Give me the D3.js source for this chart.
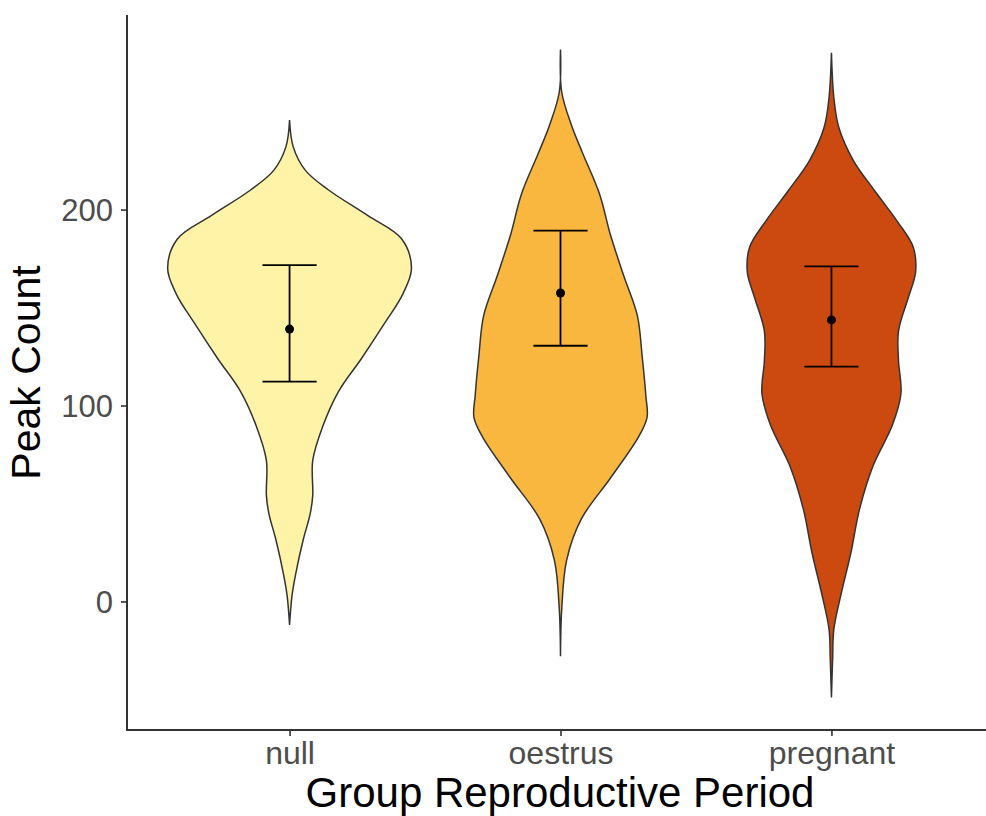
<!DOCTYPE html>
<html>
<head>
<meta charset="utf-8">
<script src="https://cdn.jsdelivr.net/npm/d3@7"></script>
<style>
  body { margin: 0; background: #fff; }
  text { font-family: "Liberation Sans", Arial, sans-serif; }
</style>
</head>
<body>
<div id="chart"></div>
<script>
let width = 986;
let height = 816;

// categories and fills
let groups = ["null", "oestrus", "pregnant"];
let fills = ["#fff3a8", "#fab73f", "#cc4a0f"];

// violin outlines: peak count values and relative density (null max = 1)
let nullVals = [245.7, 232, 220, 210, 197, 185, 170, 157, 142, 124, 107, 89, 72, 54, 45, 31, 14, 3, -12];
let nullDens = [0, 0.03, 0.13, 0.32, 0.64, 0.92, 1.0, 0.93, 0.78, 0.59, 0.40, 0.27, 0.19, 0.19, 0.17, 0.11, 0.05, 0.02, 0];
let oestrusVals = [281.7, 260, 243, 229, 208, 187, 166, 146, 125, 105, 94, 84, 63, 42, 21, -4, -28];
let oestrusDens = [0, 0.01, 0.09, 0.18, 0.32, 0.41, 0.52, 0.63, 0.67, 0.70, 0.71, 0.64, 0.41, 0.17, 0.05, 0.01, 0];
let pregnantVals = [280, 257, 242, 225, 210, 194, 181, 168, 155, 138, 123, 106, 90, 69, 47, 25, 4, -14, -29, -49];
let pregnantDens = [0, 0.02, 0.06, 0.18, 0.35, 0.54, 0.67, 0.69, 0.63, 0.55, 0.55, 0.57, 0.50, 0.34, 0.23, 0.16, 0.08, 0.02, 0.01, 0];

// mean and error bar limits
let means = [139, 157.4, 143.7];
let lowers = [112.2, 130.5, 119.8];
let uppers = [171.6, 189.3, 171];

let yTicks = [0, 100, 200];

let margin = {top: 15, right: -8, bottom: 86, left: 127};

let svg = d3.select("#chart")
    .append("svg")
    .attr("width", width)
    .attr("height", height);

let x = d3.scalePoint()
    .domain(groups)
    .range([margin.left, width - margin.right])
    .padding(0.6);
let unit = x.step();

let y = d3.scaleLinear()
    .domain([-65.6, 299.3])
    .range([height - margin.bottom, margin.top]);

// half width of a violin in px, 0.9 of a category at full density
let w = d3.scaleLinear().domain([0, 1]).range([0, unit * 0.45]);

let violins = [
    {g: "null", vals: nullVals, dens: nullDens},
    {g: "oestrus", vals: oestrusVals, dens: oestrusDens},
    {g: "pregnant", vals: pregnantVals, dens: pregnantDens}
];

let area = d3.area()
    .curve(d3.curveCatmullRom.alpha(0.5));

violins.forEach(function (v, i) {
    let pts = v.vals.map(function (val, j) { return [val, v.dens[j]]; });
    let cx = x(v.g);
    area.y(function (d) { return y(d[0]); })
        .x0(function (d) { return cx - w(d[1]); })
        .x1(function (d) { return cx + w(d[1]); });
    svg.append("path")
        .attr("d", area(pts))
        .attr("fill", fills[i])
        .attr("stroke", "#333333")
        .attr("stroke-width", 1.5);
});

// error bars
let eb = svg.append("g");
groups.forEach(function (g, i) {
    let cx = x(g);
    let hw = unit * 0.1;
    eb.append("line")
        .attr("x1", cx).attr("x2", cx)
        .attr("y1", y(lowers[i])).attr("y2", y(uppers[i]))
        .attr("stroke", "#000").attr("stroke-width", 1.8);
    [lowers[i], uppers[i]].forEach(function (val) {
        eb.append("line")
            .attr("x1", cx - hw).attr("x2", cx + hw)
            .attr("y1", y(val)).attr("y2", y(val))
            .attr("stroke", "#000").attr("stroke-width", 1.8);
    });
    eb.append("circle")
        .attr("cx", cx).attr("cy", y(means[i]))
        .attr("r", 4.5)
        .attr("fill", "#000");
});

// axes
let yAxis = svg.append("g")
    .attr("transform", "translate(" + margin.left + ",0)")
    .call(d3.axisLeft(y).tickValues(yTicks).tickSize(6));
let xAxis = svg.append("g")
    .attr("transform", "translate(0," + (height - margin.bottom) + ")")
    .call(d3.axisBottom(x).tickSize(6));

[yAxis, xAxis].forEach(function (a) {
    a.select(".domain").remove();
    a.selectAll(".tick line").attr("stroke", "#333333").attr("stroke-width", 1.6);
    a.selectAll(".tick text").attr("fill", "#4d4d4d");
});
xAxis.selectAll(".tick text")
    .attr("y", 34).attr("dy", 0)
    .style("font-size", "32px");
yAxis.selectAll(".tick text")
    .attr("x", -14).attr("dy", "0.36em")
    .style("font-size", "31px");

svg.append("line")
    .attr("x1", margin.left).attr("x2", margin.left)
    .attr("y1", margin.top).attr("y2", height - margin.bottom + 1)
    .attr("stroke", "#333333").attr("stroke-width", 2);
svg.append("line")
    .attr("x1", margin.left - 1).attr("x2", width)
    .attr("y1", height - margin.bottom).attr("y2", height - margin.bottom)
    .attr("stroke", "#333333").attr("stroke-width", 2);

// axis titles
svg.append("text")
    .attr("x", 560)
    .attr("y", 807)
    .attr("text-anchor", "middle")
    .style("font-size", "42px")
    .attr("fill", "#000")
    .text("Group Reproductive Period");

svg.append("text")
    .attr("transform", "translate(40," + ((margin.top + height - margin.bottom) / 2) + ") rotate(-90)")
    .attr("text-anchor", "middle")
    .style("font-size", "41px")
    .attr("fill", "#000")
    .text("Peak Count");
</script>
</body>
</html>
